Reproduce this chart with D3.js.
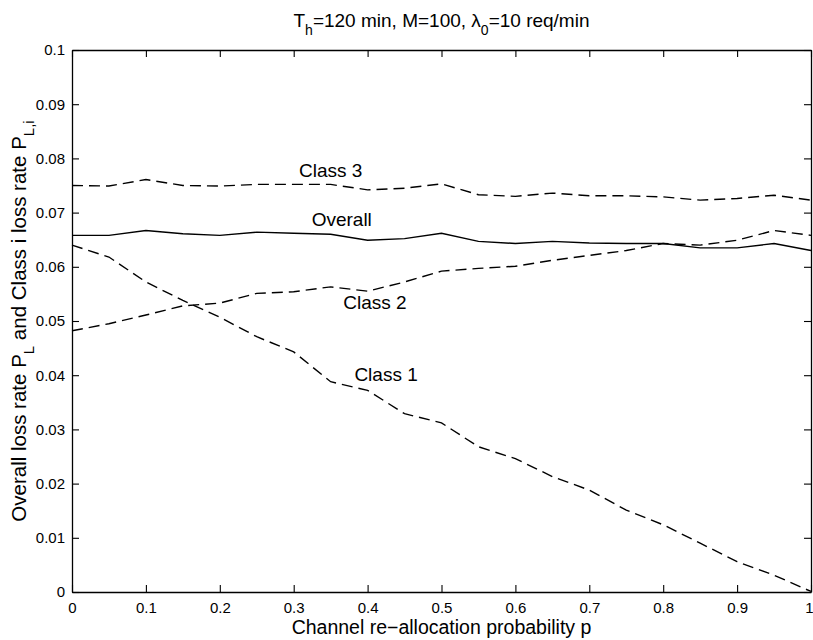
<!DOCTYPE html>
<html>
<head>
<meta charset="utf-8">
<script src="https://cdn.jsdelivr.net/npm/d3@7"></script>
<style>
  html, body { margin: 0; padding: 0; background: #fff; }
  svg { display: block; font-family: "Liberation Sans", Arial, Helvetica, sans-serif; }
</style>
</head>
<body>
<svg id="chart" width="813" height="640"></svg>
<script>
// Re-allocation probability p (x values)
const pValues = [0, 0.05, 0.1, 0.15, 0.2, 0.25, 0.3, 0.35, 0.4, 0.45, 0.5,
                 0.55, 0.6, 0.65, 0.7, 0.75, 0.8, 0.85, 0.9, 0.95, 1.0];

// Loss rates
const overall = [0.0658, 0.0658, 0.0667, 0.0661, 0.0658, 0.0664, 0.0662, 0.0660, 0.0649, 0.0652, 0.0662,
                 0.0647, 0.0643, 0.0647, 0.0644, 0.0643, 0.0643, 0.0635, 0.0635, 0.0643, 0.0630];
const class1  = [0.0640, 0.0618, 0.0572, 0.0538, 0.0507, 0.0471, 0.0443, 0.0388, 0.0372, 0.0329, 0.0312,
                 0.0268, 0.0246, 0.0213, 0.0188, 0.0151, 0.0124, 0.0090, 0.0056, 0.0031, 0.0001];
const class2  = [0.0482, 0.0495, 0.0511, 0.0528, 0.0533, 0.0551, 0.0554, 0.0563, 0.0555, 0.0572, 0.0592,
                 0.0597, 0.0601, 0.0612, 0.0621, 0.0630, 0.0643, 0.0640, 0.0649, 0.0667, 0.0658];
const class3  = [0.0750, 0.0749, 0.0761, 0.0750, 0.0749, 0.0752, 0.0752, 0.0752, 0.0742, 0.0745, 0.0753,
                 0.0733, 0.0730, 0.0736, 0.0731, 0.0731, 0.0729, 0.0723, 0.0726, 0.0732, 0.0723];

// Tick values
const xTicks = [0, 0.1, 0.2, 0.3, 0.4, 0.5, 0.6, 0.7, 0.8, 0.9, 1];
const yTicks = [0, 0.01, 0.02, 0.03, 0.04, 0.05, 0.06, 0.07, 0.08, 0.09, 0.1];

// Curve labels: [text, p, value]
const curveLabels = [
  ["Class 3", 0.35, 0.0778],
  ["Overall", 0.365, 0.0688],
  ["Class 2", 0.41, 0.0535],
  ["Class 1", 0.425, 0.0402]
];

const svg = d3.select("#chart");
const margin = { left: 72, right: 2, top: 50, bottom: 48 };
const W = 813, H = 640;

const x = d3.scaleLinear().domain([0, 1]).range([margin.left, W - margin.right]);
const y = d3.scaleLinear().domain([0, 0.1]).range([H - margin.bottom, margin.top]);

const fmt = d => String(+d.toFixed(2));
const tick = 7;

// Axes with inward ticks on all four sides
const gx = svg.append("g").attr("transform", `translate(0,${y(0)})`)
  .call(d3.axisBottom(x).tickValues(xTicks).tickFormat(fmt).tickSizeInner(-tick).tickSizeOuter(0).tickPadding(10));
svg.append("g").attr("transform", `translate(0,${y(0.1)})`)
  .call(d3.axisTop(x).tickValues(xTicks).tickFormat("").tickSizeInner(-tick).tickSizeOuter(0));
svg.append("g").attr("transform", `translate(${x(0)},0)`)
  .call(d3.axisLeft(y).tickValues(yTicks).tickFormat(fmt).tickSizeInner(-tick).tickSizeOuter(0).tickPadding(7));
svg.append("g").attr("transform", `translate(${x(1)},0)`)
  .call(d3.axisRight(y).tickValues(yTicks).tickFormat("").tickSizeInner(-tick).tickSizeOuter(0));

svg.selectAll(".domain").attr("stroke", "#000").attr("stroke-width", 1.3);
svg.selectAll(".tick line").attr("stroke", "#000").attr("stroke-width", 1.1);
svg.selectAll(".tick text").attr("fill", "#000").attr("font-size", 15)
  .attr("font-family", "'Liberation Sans', Arial, Helvetica, sans-serif");

// Keep the last x tick label inside the canvas edge
gx.selectAll(".tick text").filter(d => d === 1)
  .attr("text-anchor", "end").attr("dx", W - x(1));

// Curves
const line = d3.line().x((d, i) => x(pValues[i])).y(d => y(d));
const series = [
  { data: overall, dash: null },
  { data: class1, dash: "11,6" },
  { data: class2, dash: "11,6" },
  { data: class3, dash: "11,6" }
];
svg.append("g").selectAll("path").data(series).join("path")
  .attr("d", d => line(d.data))
  .attr("fill", "none")
  .attr("stroke", "#000")
  .attr("stroke-width", 1.4)
  .attr("stroke-dasharray", d => d.dash);

// Curve labels
svg.append("g").selectAll("text").data(curveLabels).join("text")
  .attr("x", d => x(d[1]))
  .attr("y", d => y(d[2]))
  .attr("dy", "0.35em")
  .attr("text-anchor", "middle")
  .attr("font-size", 19)
  .text(d => d[0]);

// Title with subscripts
const title = svg.append("text")
  .attr("x", (x(0) + x(1)) / 2).attr("y", 27)
  .attr("text-anchor", "middle").attr("font-size", 19);
title.append("tspan").text("T");
title.append("tspan").attr("font-size", 14).attr("dy", 8).text("h");
title.append("tspan").attr("dy", -8).text("=120 min, M=100, λ");
title.append("tspan").attr("font-size", 14).attr("dy", 8).text("0");
title.append("tspan").attr("dy", -8).text("=10 req/min");

// X axis label
svg.append("text")
  .attr("x", (x(0) + x(1)) / 2).attr("y", 634)
  .attr("text-anchor", "middle").attr("font-size", 19.5)
  .text("Channel re\u2212allocation probability p");

// Y axis label, rotated, with subscripts
const yl = svg.append("text")
  .attr("transform", `translate(26,${(y(0) + y(0.1)) / 2}) rotate(-90)`)
  .attr("text-anchor", "middle").attr("font-size", 20.5);
yl.append("tspan").text("Overall loss rate P");
yl.append("tspan").attr("font-size", 15).attr("dy", 8).text("L");
yl.append("tspan").attr("dy", -8).text(" and Class i loss rate P");
yl.append("tspan").attr("font-size", 15).attr("dy", 8).text("L,i");
</script>
</body>
</html>
